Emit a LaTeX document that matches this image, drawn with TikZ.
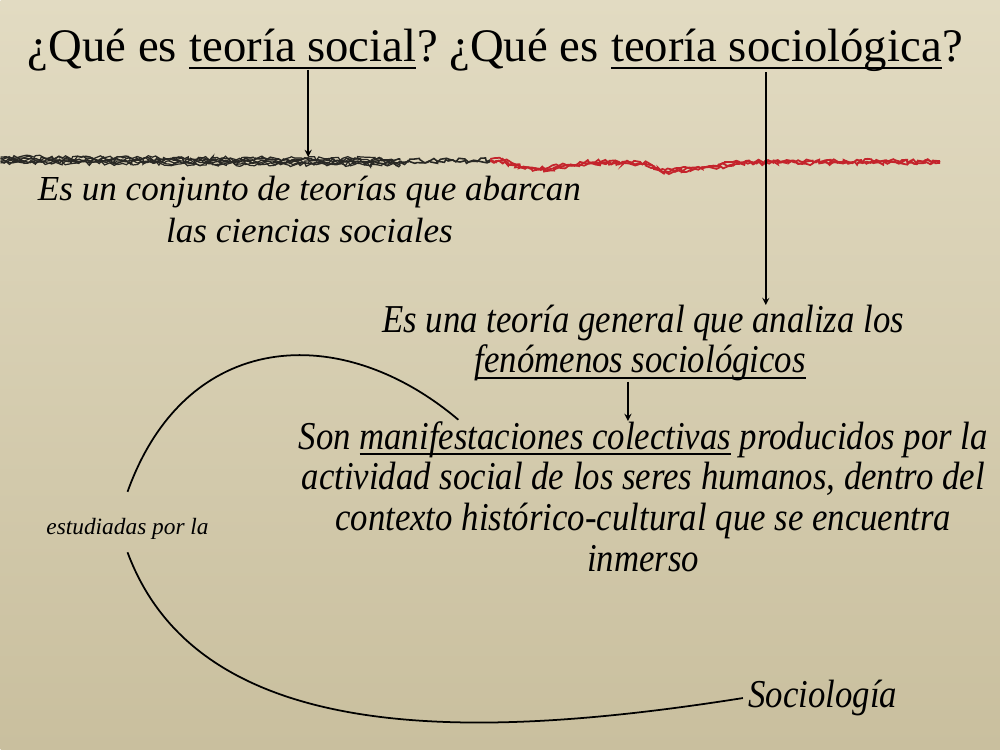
\documentclass[tikz,border=0pt]{standalone}
\usepackage{fontspec}
\setmainfont{Liberation Serif}
\newfontfamily\narrowit[FakeStretch=0.88]{Liberation Serif}
\usetikzlibrary{arrows,positioning,decorations.pathmorphing}

\definecolor{papertop}{RGB}{226,219,194}
\definecolor{paperbot}{RGB}{201,191,158}
\definecolor{inkred}{RGB}{196,36,44}
\definecolor{inkblack}{RGB}{40,40,36}

\newcommand\ul[1]{\leavevmode\setbox0\hbox{#1}\rlap{\rule[-0.16em]{\wd0}{0.05em}}\box0\relax}

\tikzset{
  title/.style={inner sep=0pt, font=\fontsize{26.6}{30}\selectfont},
  answer/.style={inner sep=0pt, align=center, font=\fontsize{20}{24}\selectfont\itshape},
  narrow/.style={inner sep=0pt, align=center, font=\fontsize{22.5}{23.3}\selectfont\narrowit\itshape},
  brush/.style={line width=0.7pt, decorate, decoration={random steps, segment length=2pt, amplitude=1.3pt}}
}

\begin{document}
\begin{tikzpicture}[x=0.02cm, y=-0.02cm]
\pgfmathsetseed{11}
\shade[top color=papertop, bottom color=paperbot] (0,0) rectangle (1000,750);

% pregunta
\node[title, anchor=base west] at (27,62) (q1) {¿Qué es\kern0.25em};
\node[title, base right=0pt of q1] (social) {\ul{teoría social}};
\node[title, base right=0pt of social] (q2) {?\ ¿Qué es\kern0.25em};
\node[title, base right=0pt of q2] (sociologica) {\ul{teoría sociológica}};
\node[title, base right=0pt of sociologica] (q3) {?};

% trazo
\foreach \d in {-3,-2,-1,0,1,2,3}
  \draw[brush, inkblack] (0,160+\d) -- (400,162+\d);
\foreach \d in {-1,0.5}
  \draw[brush, inkblack, line width=0.9pt] (400,162+\d) -- (490,161+\d);
\foreach \d in {-1,0,1}
  \draw[brush, inkred, line width=1pt] (490,160+\d) to[out=0,in=180] (535,169+\d)
    to[out=0,in=180] (600,163+\d) -- (640,163+\d) to[out=0,in=180] (665,171+\d)
    to[out=0,in=180] (765,162+\d) -- (940,162+\d);
\coordinate (stroke) at (0,157);

% respuestas
\node[answer] at (309,210) (conjunto) {Es un conjunto de teorías que abarcan\\las ciencias sociales};
\node[narrow, anchor=base] at (643,333) (general) {Es una teoría general que analiza los};
\node[narrow, anchor=base] at (640,373) (fenomenos) {\ul{fenómenos sociológicos}};
\node[narrow] at (643,497) (manifest) {Son \ul{manifestaciones colectivas} producidos por la\\
  actividad social de los seres humanos, dentro del\\
  contexto histórico-cultural que se encuentra\\
  inmerso};
\node[inner sep=0pt, font=\fontsize{13.3}{15}\selectfont\itshape, anchor=base] at (127,535) (estudiadas) {estudiadas por la};
\node[inner sep=0pt, font=\fontsize{22.5}{24}\selectfont\narrowit\itshape, anchor=base west] at (748,708) (sociologia) {Sociología};
\coordinate (hook) at (458,420);

% flechas
\draw[->, >=stealth, thick] ([xshift=3pt]social.south) -- ([xshift=3pt]social.south |- stroke);
\draw[->, >=stealth, thick] ([xshift=-6pt]sociologica.south) -- ([xshift=-6pt]sociologica.south |- general.north);
\draw[->, >=stealth, thick] ([xshift=-7pt]fenomenos.south) -- ([xshift=-7pt]fenomenos.south |- manifest.north);
\draw[line width=1pt] ([yshift=15pt]estudiadas.north) .. controls (185,330) and (340,320) .. (hook);
\draw[line width=1pt] ([yshift=-7pt]estudiadas.south) .. controls (200,750) and (480,740) .. ([xshift=-3pt]sociologia.west);
\end{tikzpicture}
\end{document}
